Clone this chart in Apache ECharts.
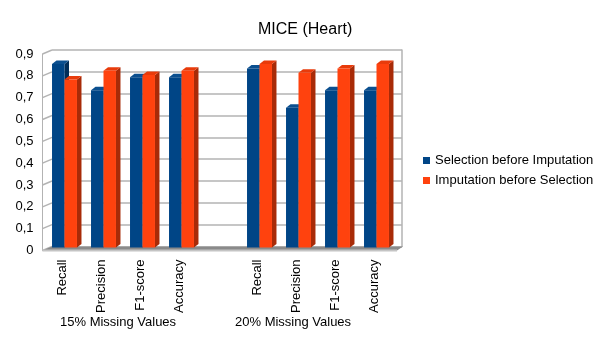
<!DOCTYPE html>
<html>
<head>
<meta charset="utf-8">
<script src="https://cdn.jsdelivr.net/npm/echarts@6/dist/echarts.min.js"></script>
<style>
  html, body { margin: 0; padding: 0; background: #fff; }
  #chart { width: 605px; height: 340px; }
</style>
</head>
<body>
<div id="chart"></div>
<script>
// data
const categories = ['Recall', 'Precision', 'F1-score', 'Accuracy', '', 'Recall', 'Precision', 'F1-score', 'Accuracy']
const selectionBeforeImputation = [0.84, 0.72, 0.78, 0.78, null, 0.82, 0.64, 0.72, 0.72]
const imputationBeforeSelection = [0.77, 0.81, 0.79, 0.81, null, 0.84, 0.80, 0.82, 0.84]
const yTicks = [0, 0.1, 0.2, 0.3, 0.4, 0.5, 0.6, 0.7, 0.8, 0.9]
const groupLabels = ['15% Missing Values', '20% Missing Values']

const FONT = '"Liberation Sans", Arial, sans-serif'
// fake 3d look
const MID_DX = 2.5, MID_DY = -3   // bars sit half way into the box
const SIDE_DX = 4.5, SIDE_DY = -3.5
const BACK_DX = 9.5, BACK_DY = -4

const chart = echarts.init(document.getElementById('chart'))

function barRenderer(slot, front, side, top) {
  return function (params, api) {
    const v = api.value(1)
    if (v == null || isNaN(v)) return
    const base = api.coord([api.value(0), 0])
    const head = api.coord([api.value(0), v])
    const w = api.size([1, 0])[0] * 0.32
    const x0 = base[0] + MID_DX + (slot - 1) * w
    const x1 = x0 + w
    const yb = base[1] + MID_DY
    const yt = head[1] + MID_DY
    return {
      type: 'group',
      children: [
        { type: 'polygon', shape: { points: [[x1, yt], [x1 + SIDE_DX, yt + SIDE_DY], [x1 + SIDE_DX, yb + SIDE_DY], [x1, yb]] }, style: { fill: side } },
        { type: 'polygon', shape: { points: [[x0, yt], [x0 + SIDE_DX, yt + SIDE_DY], [x1 + SIDE_DX, yt + SIDE_DY], [x1, yt]] }, style: { fill: top } },
        { type: 'rect', shape: { x: x0, y: yt, width: w, height: yb - yt }, style: { fill: front } }
      ]
    }
  }
}

const option = {
  animation: false,
  title: {
    text: 'MICE (Heart)',
    left: 253,
    top: 17,
    textStyle: { fontFamily: FONT, fontSize: 16, fontWeight: 'normal', color: '#000' }
  },
  legend: {
    orient: 'vertical',
    left: 423,
    top: 154,
    padding: 0,
    itemWidth: 7,
    itemHeight: 7,
    itemGap: 7,
    icon: 'rect',
    textStyle: { fontFamily: FONT, fontSize: 13, color: '#000' },
    data: ['Selection before Imputation', 'Imputation before Selection']
  },
  graphic: [
    { type: 'text', left: 60, top: 316, style: { text: groupLabels[0], font: '13px ' + FONT, fill: '#000' } },
    { type: 'text', left: 235, top: 316, style: { text: groupLabels[1], font: '13px ' + FONT, fill: '#000' } }
  ],
  grid: [
    { left: 42.5, top: 54, width: 351, height: 196.5 },
    { left: 52, top: 50, width: 350, height: 196.5 }
  ],
  xAxis: [
    {
      type: 'category',
      gridIndex: 0,
      data: categories,
      axisLine: { show: false },
      axisTick: { show: false },
      axisLabel: { interval: 0, rotate: 90, margin: 9, fontFamily: FONT, fontSize: 13, color: '#000' }
    },
    { type: 'value', gridIndex: 1, min: 0, max: 1, show: false }
  ],
  yAxis: [
    {
      type: 'value',
      gridIndex: 0,
      min: 0,
      max: 0.9,
      interval: 0.1,
      axisLine: { show: true, lineStyle: { color: '#b3b3b3', width: 1 } },
      axisTick: { show: false },
      splitLine: { show: false },
      axisLabel: {
        margin: 9,
        fontFamily: FONT,
        fontSize: 13,
        color: '#000',
        formatter: v => (v === 0 ? '0' : v.toFixed(1).replace('.', ','))
      }
    },
    {
      type: 'value',
      gridIndex: 1,
      min: 0,
      max: 0.9,
      interval: 0.1,
      axisLine: { show: false },
      axisTick: { show: false },
      axisLabel: { show: false },
      splitLine: { show: true, lineStyle: { color: '#b3b3b3', width: 1.5 } }
    },
    {
      type: 'value',
      gridIndex: 1,
      position: 'right',
      min: 0,
      max: 0.9,
      axisLine: { show: true, lineStyle: { color: '#b3b3b3', width: 1.5 } },
      axisTick: { show: false },
      axisLabel: { show: false },
      splitLine: { show: false }
    }
  ],
  series: [
    {
      // left wall: short slanted pieces of the grid lines
      type: 'custom',
      xAxisIndex: 1,
      yAxisIndex: 1,
      silent: true,
      z: 1,
      data: yTicks.map(v => [0, v]),
      renderItem: (params, api) => {
        const p = api.coord([0, api.value(1)])
        return {
          type: 'line',
          shape: { x1: p[0], y1: p[1], x2: p[0] - BACK_DX, y2: p[1] - BACK_DY },
          style: { stroke: '#b3b3b3', lineWidth: 1.5 }
        }
      }
    },
    {
      // floor
      type: 'custom',
      xAxisIndex: 0,
      yAxisIndex: 0,
      silent: true,
      z: 1,
      data: [[0, 0]],
      renderItem: (params, api) => {
        const cs = params.coordSys
        const yb = cs.y + cs.height
        const xl = cs.x, xr = cs.x + cs.width + 3.5
        return {
          type: 'group',
          children: [
            {
              type: 'polygon',
              shape: { points: [[xl, yb], [xr, yb], [xr + BACK_DX - 3.5, yb + BACK_DY], [xl + BACK_DX, yb + BACK_DY]] },
              style: { fill: '#8a8a8a' }
            },
            {
              type: 'rect',
              shape: { x: xl, y: yb - 1, width: xr - xl, height: 2 },
              style: { fill: '#c4c4c4' }
            }
          ]
        }
      }
    },
    {
      name: 'Selection before Imputation',
      type: 'custom',
      xAxisIndex: 0,
      yAxisIndex: 0,
      z: 3,
      itemStyle: { color: '#004586' },
      data: selectionBeforeImputation.map((v, i) => [i, v]),
      encode: { x: 0, y: 1 },
      renderItem: barRenderer(0, '#004586', '#002d58', '#0b4f8f')
    },
    {
      name: 'Imputation before Selection',
      type: 'custom',
      xAxisIndex: 0,
      yAxisIndex: 0,
      z: 3,
      itemStyle: { color: '#ff420e' },
      data: imputationBeforeSelection.map((v, i) => [i, v]),
      encode: { x: 0, y: 1 },
      renderItem: barRenderer(1, '#ff420e', '#a82b08', '#e83b0b')
    }
  ]
}

chart.setOption(option)
</script>
</body>
</html>
